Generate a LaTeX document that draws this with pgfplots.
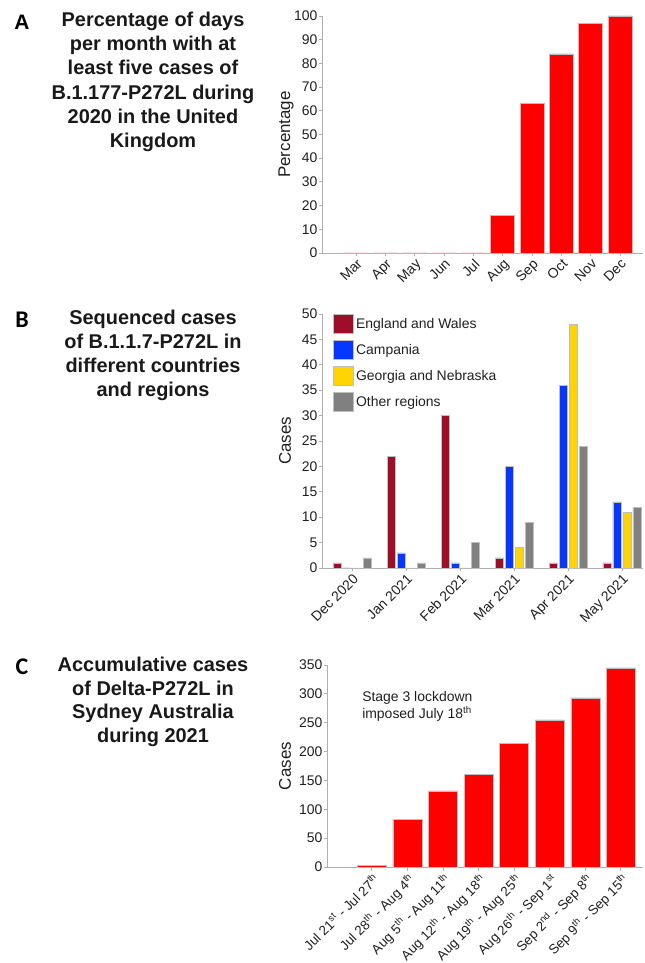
\documentclass[border=0pt]{standalone}
\usepackage{fontspec}
\setmainfont{Liberation Sans}
\newfontfamily\calibri{Carlito}
\usepackage{pgfplots}
\pgfplotsset{compat=1.18}

\definecolor{barred}{RGB}{255,0,0}
\definecolor{edgegray}{RGB}{190,190,190}
\definecolor{axisgray}{RGB}{175,175,175}
\definecolor{engwales}{RGB}{158,14,40}
\definecolor{campania}{RGB}{5,55,255}
\definecolor{georgia}{RGB}{255,212,0}
\definecolor{otherreg}{RGB}{128,128,128}

\pgfplotsset{
  panel/.style={
    scale only axis,
    axis x line=bottom, axis y line=left,
    axis line style={-, draw=axisgray, line width=0.9bp},
    tick style={draw=axisgray, line width=0.9bp},
    major tick length=3.5bp, tick align=outside,
    ymin=0,
    /pgf/number format/assume math mode=true,
    tick label style={font=\fontsize{14}{16}\selectfont, text=black!88},
    y tick label style={inner sep=1bp},
    x tick label style={rotate=45, anchor=north east, inner sep=1bp},
    clip=false,
  },
  ylab/.style={every axis y label/.style={at={(axis description cs:#1,0.5)}, rotate=90,
    anchor=center, font=\fontsize{17}{20}\selectfont, text=black!88}},
}
\tikzset{ttl/.style={anchor=base, font=\bfseries\fontsize{20}{23}\selectfont, text=black!90}}

\begin{document}
\begin{tikzpicture}
\path[use as bounding box] (0,0) rectangle (645bp,963bp);

% ---------- panel A ----------
\begin{axis}[panel, at={(322bp,710bp)}, anchor=south west,
    width=321bp, height=237bp,
    xmin=-1.16, xmax=9.78, ymax=100,
    ytick={0,10,...,100},
    xtick={0,...,9},
    xticklabels={Mar,Apr,May,Jun,Jul,Aug,Sep,Oct,Nov,Dec},
    ybar, bar width=24bp,
    ylabel={Percentage}, ylab=-0.112,
  ]
  \addplot[fill=barred, draw=edgegray, line width=0.6bp]
    coordinates {(0,0) (1,0) (2,0) (3,0) (4,0) (5,16) (6,63) (7,84) (8,97) (9,100)};
\end{axis}

% ---------- panel B ----------
\begin{axis}[panel, at={(322bp,395bp)}, anchor=south west,
    width=321bp, height=254bp,
    xmin=-0.56, xmax=5.39, ymax=50,
    ytick={0,5,...,50},
    xtick={0,...,5},
    xticklabels={Dec 2020,Jan 2021,Feb 2021,Mar 2021,Apr 2021,May 2021},
    ybar=2bp, bar width=8bp,
    ylabel={Cases}, ylab=-0.115,
    legend image code/.code={\filldraw[#1] (0bp,-9.5bp) rectangle (20bp,9.5bp);},
    legend cell align=left,
    legend style={at={(0.034,1.0)}, anchor=north west, draw=none, fill=none,
      font=\fontsize{14}{16}\selectfont, text=black!88, row sep=6.5bp, inner sep=0pt,
      nodes={inner sep=2.5bp}},
  ]
  \addplot[fill=engwales, draw=edgegray, line width=0.5bp]
    coordinates {(0,1) (1,22) (2,30) (3,2) (4,1) (5,1)};
  \addplot[fill=campania, draw=edgegray, line width=0.5bp]
    coordinates {(0,0) (1,3) (2,1) (3,20) (4,36) (5,13)};
  \addplot[fill=georgia, draw=edgegray, line width=0.5bp]
    coordinates {(0,0) (1,0) (2,0) (3,4) (4,48) (5,11)};
  \addplot[fill=otherreg, draw=edgegray, line width=0.5bp]
    coordinates {(0,2) (1,1) (2,5) (3,9) (4,24) (5,12)};
  \legend{England and Wales,Campania,Georgia and Nebraska,Other regions}
\end{axis}

% ---------- panel C ----------
\begin{axis}[panel, at={(327bp,96bp)}, anchor=south west,
    width=316bp, height=202bp,
    xmin=-1.26, xmax=7.62, ymax=350,
    ytick={0,50,...,350},
    xtick={0,...,7},
    xticklabels={Jul 21\textsuperscript{st} - Jul 27\textsuperscript{th},
      Jul 28\textsuperscript{th} - Aug 4\textsuperscript{th},
      Aug 5\textsuperscript{th} - Aug 11\textsuperscript{th},
      Aug 12\textsuperscript{th} - Aug 18\textsuperscript{th},
      Aug 19\textsuperscript{th} - Aug 25\textsuperscript{th},
      Aug 26\textsuperscript{th} - Sep 1\textsuperscript{st},
      Sep 2\textsuperscript{nd} - Sep 8\textsuperscript{th},
      Sep 9\textsuperscript{th} - Sep 15\textsuperscript{th}},
    x tick label style={font=\fontsize{13.5}{15}\selectfont},
    ybar, bar width=29bp,
    ylabel={Cases}, ylab=-0.133,
  ]
  \addplot[fill=barred, draw=edgegray, line width=0.6bp]
    coordinates {(0,3) (1,82) (2,132) (3,160) (4,214) (5,255) (6,293) (7,345)};
  \node[anchor=base west, inner sep=0pt, font=\fontsize{14}{16}\selectfont, text=black!88]
    at (axis description cs:0.111,0.817) {Stage 3 lockdown};
  \node[anchor=base west, inner sep=0pt, font=\fontsize{14}{16}\selectfont, text=black!88]
    at (axis description cs:0.111,0.733) {imposed July 18\textsuperscript{th}};
\end{axis}

% ---------- panel letters and titles ----------
\node[anchor=base, font=\bfseries\fontsize{21}{24}\selectfont] at (22bp,933bp) {A};
\node[anchor=base, font=\calibri\bfseries\fontsize{24}{26}\selectfont] at (22bp,635bp) {B};
\node[anchor=base, font=\calibri\bfseries\fontsize{24}{26}\selectfont] at (22bp,288bp) {C};

\node[ttl] at (153bp,936bp) {Percentage of days};
\node[ttl] at (153bp,912bp) {per month with at};
\node[ttl] at (153bp,888bp) {least five cases of};
\node[ttl] at (153bp,863bp) {B.1.177-P272L during};
\node[ttl] at (153bp,839bp) {2020 in the United};
\node[ttl] at (153bp,815bp) {Kingdom};

\node[ttl] at (153bp,638bp) {Sequenced cases};
\node[ttl] at (153bp,614bp) {of B.1.1.7-P272L in};
\node[ttl] at (153bp,590bp) {different countries};
\node[ttl] at (153bp,566bp) {and regions};

\node[ttl] at (153bp,291bp) {Accumulative cases};
\node[ttl] at (153bp,267bp) {of Delta-P272L in};
\node[ttl] at (153bp,244bp) {Sydney Australia};
\node[ttl] at (153bp,220bp) {during 2021};
\end{tikzpicture}
\end{document}
